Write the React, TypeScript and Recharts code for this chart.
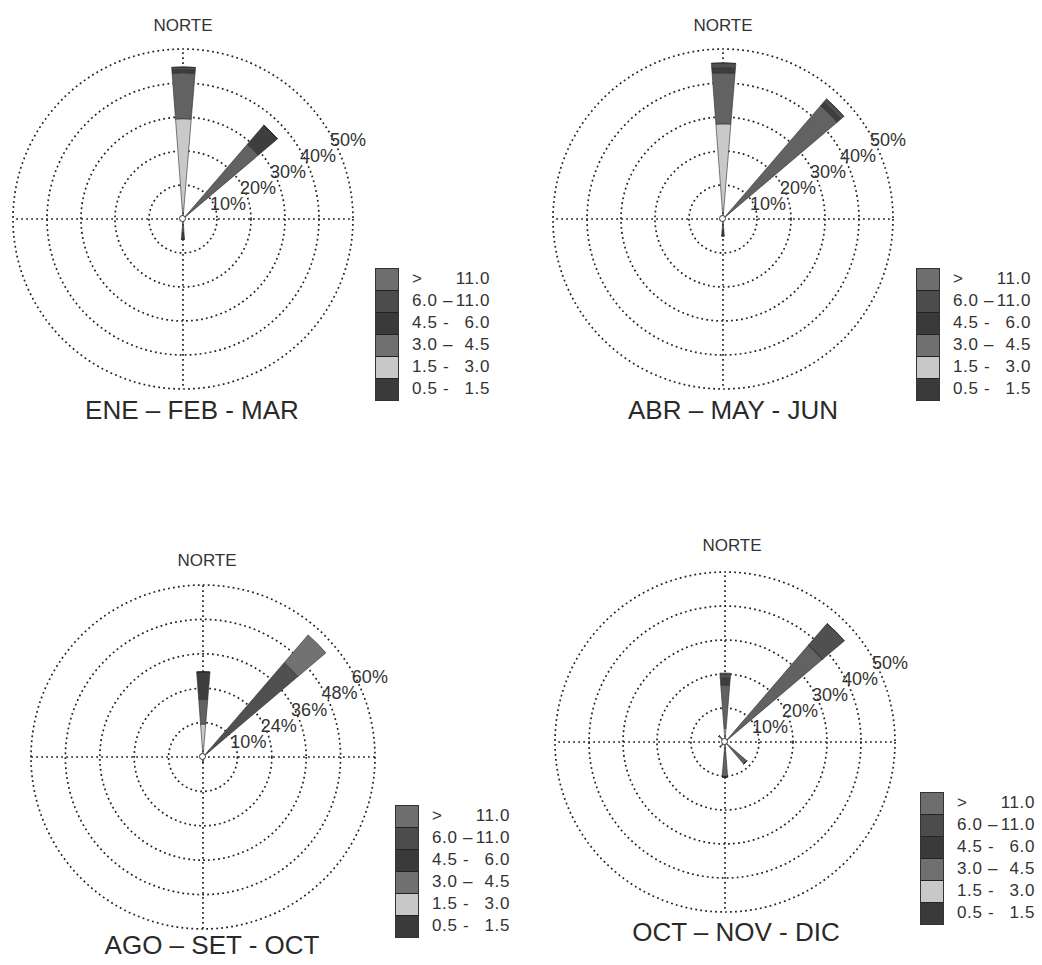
import React from 'react'
import { RadialBarChart, RadialBar, PolarGrid, PolarAngleAxis, PolarRadiusAxis } from 'recharts'

const DIRECTIONS = ['N', 'NNE', 'NE', 'ENE', 'E', 'ESE', 'SE', 'SSE', 'S', 'SSW', 'SW', 'WSW', 'W', 'WNW', 'NW', 'NNW']

// speed classes (m/s), stacked from the centre outwards
const SPEED_KEYS = ['s1', 's2', 's3', 's4', 's5', 's6']
const SPEED_NAMES = ['0.5 - 1.5', '1.5 - 3.0', '3.0 – 4.5', '4.5 - 6.0', '6.0 –11.0', '> 11.0']
const SPEED_COLORS = ['#3b3b3b', '#c9c9c9', '#626262', '#3e3e3e', '#505050', '#727272']

// legend rows, top to bottom
const LEGEND_LEFT = ['>', '6.0', '4.5', '3.0', '1.5', '0.5']
const LEGEND_DASH = ['', '–', '-', '–', '-', '-']
const LEGEND_RIGHT = ['11.0', '11.0', '6.0', '4.5', '3.0', '1.5']
const LEGEND_COLORS = ['#6e6e6e', '#4c4c4c', '#3a3a3a', '#707070', '#c8c8c8', '#3a3a3a']

const TICKS_50 = [10, 20, 30, 40, 50]
const LABELS_50 = ['10%', '20%', '30%', '40%', '50%']
const TICKS_60 = [12, 24, 36, 48, 60]
const LABELS_60 = ['10%', '24%', '36%', '48%', '60%']

// ENE - FEB - MAR  (frequency %, N ... NNW)
const q1S1 = [1.0, 0, 0.5, 0, 0, 0, 0, 0, 1.0, 0, 0, 0, 0, 0, 0, 0]
const q1S2 = [28.5, 0, 0.5, 0, 0, 0, 0, 0, 0.5, 0, 0, 0, 0, 0, 0, 0]
const q1S3 = [13.5, 0, 28.0, 0, 0, 0, 0, 0, 2.5, 0, 0, 0, 0, 0, 0, 0]
const q1S4 = [1.0, 0, 7.4, 0, 0, 0, 0, 0, 2.0, 0, 0, 0, 0, 0, 0, 0]
const q1S5 = [0.7, 0, 0, 0, 0, 0, 0, 0, 0, 0, 0, 0, 0, 0, 0, 0]
const q1S6 = [0, 0, 0, 0, 0, 0, 0, 0, 0, 0, 0, 0, 0, 0, 0, 0]

// ABR - MAY - JUN
const q2S1 = [1.0, 0, 0.5, 0, 0, 0, 0, 0, 1.0, 0, 0, 0, 0, 0, 0, 0]
const q2S2 = [27.0, 0, 0.5, 0, 0, 0, 0, 0, 0.5, 0, 0, 0, 0, 0, 0, 0]
const q2S3 = [15.0, 0, 43.0, 0, 0, 0, 0, 0, 2.0, 0, 0, 0, 0, 0, 0, 0]
const q2S4 = [1.5, 0, 1.5, 0, 0, 0, 0, 0, 1.5, 0, 0, 0, 0, 0, 0, 0]
const q2S5 = [1.4, 0, 1.1, 0, 0, 0, 0, 0, 0, 0, 0, 0, 0, 0, 0, 0]
const q2S6 = [0, 0, 0, 0, 0, 0, 0, 0, 0, 0, 0, 0, 0, 0, 0, 0]

// AGO - SET - OCT
const q3S1 = [0.5, 0, 0.5, 0, 0, 0, 0, 0, 1.0, 0, 0, 0, 0, 0, 0, 0]
const q3S2 = [11.0, 0, 0.5, 0, 0, 0, 0, 0, 0, 0, 0, 0, 0, 0, 0, 0]
const q3S3 = [8.7, 0, 1.0, 0, 0, 0, 0, 0, 0, 0, 0, 0, 0, 0, 0, 0]
const q3S4 = [9.5, 0, 1.0, 0, 0, 0, 0, 0, 1.0, 0, 0, 0, 0, 0, 0, 0]
const q3S5 = [0, 0, 40.4, 0, 0, 0, 0, 0, 0, 0, 0, 0, 0, 0, 0, 0]
const q3S6 = [0, 0, 12.8, 0, 0, 0, 0, 0, 0, 0, 0, 0, 0, 0, 0, 0]

// OCT - NOV - DIC
const q4S1 = [1.0, 0, 0.5, 0, 0, 0, 1.0, 0, 1.0, 0, 0.5, 0, 0, 0, 0.5, 0]
const q4S2 = [3.0, 0, 0.5, 0, 0, 0, 0, 0, 1.0, 0, 0, 0, 0, 0, 0, 0]
const q4S3 = [12.8, 0, 36.6, 0, 0, 0, 7.5, 0, 8.3, 0, 1.5, 0, 0, 0, 2.0, 0]
const q4S4 = [2.0, 0, 0, 0, 0, 0, 0, 0, 0, 0, 0, 0, 0, 0, 0, 0]
const q4S5 = [1.2, 0, 8.4, 0, 0, 0, 0, 0, 0, 0, 0, 0, 0, 0, 0, 0]
const q4S6 = [0.3, 0, 0, 0, 0, 0, 0, 0, 0, 0, 0, 0, 0, 0, 0, 0]

const FONT = '"Liberation Sans", Arial, sans-serif'
const SIZE = 380

type PanelProps = {
  title: string
  series: number[][]
  max: number
  ticks: number[]
  tickLabels: string[]
  cx: number
  cy: number
  r: number
  northX: number
  northY: number
  titleX: number
  titleY: number
  legendX: number
  legendY: number
}

function Legend({ x, y }: { x: number; y: number }) {
  return (
    <div style={{ position: 'absolute', left: x, top: y, display: 'flex', fontFamily: FONT, color: '#333' }}>
      <div style={{ border: '1px solid #333', width: 22 }}>
        {LEGEND_COLORS.map((c, i) => (
          <div key={i} style={{ height: 21, background: c, borderTop: i ? '1px solid #222' : 'none' }} />
        ))}
      </div>
      <div style={{ marginLeft: 13, fontSize: 17, letterSpacing: 0.6 }}>
        {LEGEND_LEFT.map((l, i) => (
          <div key={i} style={{ display: 'flex', height: 22, lineHeight: '22px' }}>
            <span style={{ width: 31 }}>{l}</span>
            <span style={{ width: 12 }}>{LEGEND_DASH[i]}</span>
            <span style={{ width: 35, textAlign: 'right' }}>{LEGEND_RIGHT[i]}</span>
          </div>
        ))}
      </div>
    </div>
  )
}

function WindRose(p: PanelProps) {
  const table = DIRECTIONS.map((dir, i) => {
    const row: Record<string, string | number> = { dir }
    SPEED_KEYS.forEach((k, j) => {
      row[k] = p.series[j][i]
    })
    return row
  })

  // horizontal percentage labels next to each ring
  const renderTick = (t: any) => (
    <text
      x={t.x - 3}
      y={t.y + 7}
      textAnchor="start"
      fontSize={18}
      fontFamily={FONT}
      fill="#333"
    >
      {p.tickLabels[p.ticks.indexOf(t.payload.value)] ?? ''}
    </text>
  )

  return (
    <>
      <div style={{ position: 'absolute', left: p.cx - SIZE / 2, top: p.cy - SIZE / 2 }}>
        <RadialBarChart
          width={SIZE}
          height={SIZE}
          cx={SIZE / 2}
          cy={SIZE / 2}
          innerRadius={0}
          outerRadius={p.r}
          data={table}
          layout="centric"
          startAngle={78.75}
          endAngle={-281.25}
          barCategoryGap="29%"
          margin={{ top: 0, right: 0, bottom: 0, left: 0 }}
        >
          <PolarGrid
            gridType="circle"
            polarAngles={[0, 90, 180, 270]}
            stroke="#222"
            strokeDasharray="1.8 3.2"
            strokeWidth={1.7}
          />
          <PolarAngleAxis type="category" dataKey="dir" tick={false} axisLine={false} tickLine={false} />
          <PolarRadiusAxis
            type="number"
            domain={[0, p.max]}
            ticks={p.ticks}
            angle={28}
            axisLine={false}
            tickLine={false}
            tick={renderTick}
          />
          {SPEED_KEYS.map((k, j) => (
            <RadialBar
              key={k}
              dataKey={k}
              name={SPEED_NAMES[j]}
              stackId="speed"
              fill={SPEED_COLORS[j]}
              stroke="#2a2a2a"
              strokeWidth={0.6}
              isAnimationActive={false}
            />
          ))}
        </RadialBarChart>
      </div>
      {/* centre marker */}
      <div
        style={{
          position: 'absolute',
          left: p.cx - 4,
          top: p.cy - 4,
          width: 5,
          height: 5,
          borderRadius: '50%',
          background: '#fff',
          border: '1.5px solid #333',
        }}
      />
      <div
        style={{
          position: 'absolute',
          left: p.northX - 40,
          top: p.northY,
          width: 80,
          textAlign: 'center',
          fontFamily: FONT,
          fontSize: 17,
          color: '#333',
        }}
      >
        NORTE
      </div>
      <div
        style={{
          position: 'absolute',
          left: p.titleX - 150,
          top: p.titleY,
          width: 300,
          textAlign: 'center',
          fontFamily: FONT,
          fontSize: 26,
          color: '#2a2a2a',
        }}
      >
        {p.title}
      </div>
      <Legend x={p.legendX} y={p.legendY} />
    </>
  )
}

export default function App() {
  return (
    <div style={{ position: 'relative', width: 1042, height: 965, background: '#fff', overflow: 'hidden' }}>
      <style>{'body{margin:0}'}</style>
      <WindRose
        title="ENE – FEB - MAR"
        series={[q1S1, q1S2, q1S3, q1S4, q1S5, q1S6]}
        max={50}
        ticks={TICKS_50}
        tickLabels={LABELS_50}
        cx={183}
        cy={219}
        r={170}
        northX={183}
        northY={16}
        titleX={192}
        titleY={395}
        legendX={375}
        legendY={268}
      />
      <WindRose
        title="ABR – MAY - JUN"
        series={[q2S1, q2S2, q2S3, q2S4, q2S5, q2S6]}
        max={50}
        ticks={TICKS_50}
        tickLabels={LABELS_50}
        cx={723}
        cy={219}
        r={170}
        northX={723}
        northY={16}
        titleX={733}
        titleY={395}
        legendX={916}
        legendY={268}
      />
      <WindRose
        title="AGO – SET - OCT"
        series={[q3S1, q3S2, q3S3, q3S4, q3S5, q3S6]}
        max={60}
        ticks={TICKS_60}
        tickLabels={LABELS_60}
        cx={203}
        cy={757}
        r={172}
        northX={207}
        northY={551}
        titleX={212}
        titleY={930}
        legendX={395}
        legendY={805}
      />
      <WindRose
        title="OCT – NOV - DIC"
        series={[q4S1, q4S2, q4S3, q4S4, q4S5, q4S6]}
        max={50}
        ticks={TICKS_50}
        tickLabels={LABELS_50}
        cx={725}
        cy={742}
        r={170}
        northX={732}
        northY={536}
        titleX={736}
        titleY={917}
        legendX={920}
        legendY={792}
      />
    </div>
  )
}
